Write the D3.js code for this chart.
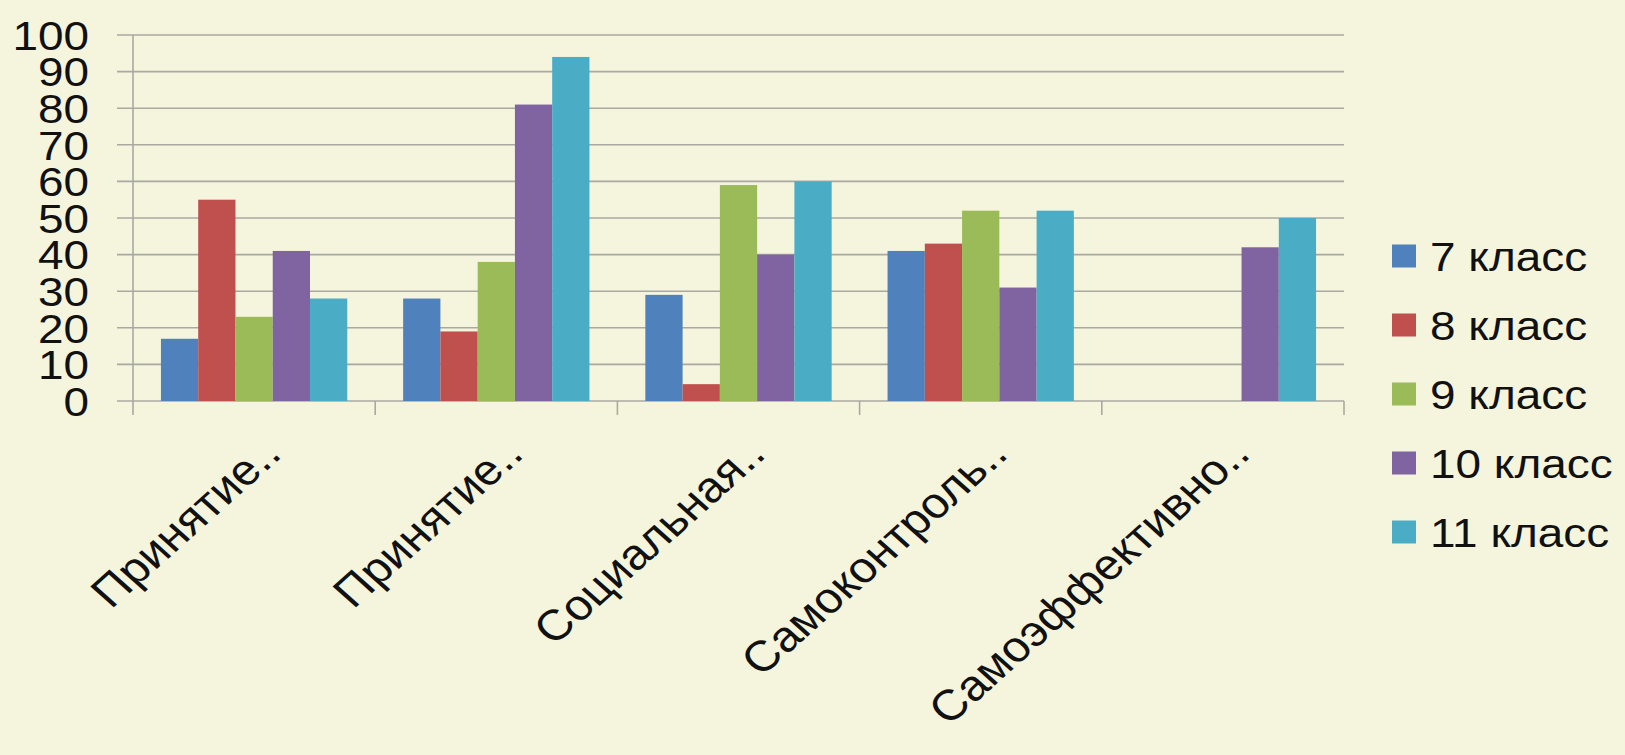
<!DOCTYPE html>
<html>
<head>
<meta charset="utf-8">
<script src="https://cdn.jsdelivr.net/npm/d3@7/dist/d3.min.js"></script>
<style>
  html, body { margin: 0; padding: 0; background: #F5F5DE; }
  svg { display: block; }
  text { font-family: "Liberation Sans", Arial, sans-serif; fill: #111; }
</style>
</head>
<body>
<svg id="chart" width="1625" height="755"></svg>
<script>
const categories = ["Принятие..", "Принятие..", "Социальная..", "Самоконтроль..", "Самоэффективно.."];
const seriesNames = ["7 класс", "8 класс", "9 класс", "10 класс", "11 класс"];
const seriesColors = ["#4F81BD", "#C0504D", "#9BBB59", "#8064A2", "#4BACC6"];
const s7  = [17, 28, 29, 41, null];
const s8  = [55, 19, 4.6, 43, null];
const s9  = [23, 38, 59, 52, null];
const s10 = [41, 81, 40, 31, 42];
const s11 = [28, 94, 60, 52, 50];
const yTicks = [0, 10, 20, 30, 40, 50, 60, 70, 80, 90, 100];

const seriesValues = [s7, s8, s9, s10, s11];
const SX = 1.12; // horizontal stretch of text seen in the reference

const svg = d3.select("#chart");
svg.append("rect").attr("width", 1625).attr("height", 755).attr("fill", "#F5F5DE");

const plotLeft = 133, plotRight = 1344, gridLeft = 117;
const y = d3.scaleLinear().domain([0, 100]).range([401, 35]);
const x0 = d3.scaleBand().domain(d3.range(categories.length)).range([plotLeft, plotRight]).paddingInner(0).paddingOuter(0);
const x1 = d3.scaleBand().domain(d3.range(seriesNames.length)).range([0, x0.bandwidth()]).paddingInner(0).paddingOuter(0.75);

// gridlines
svg.append("g").selectAll("line").data(yTicks).join("line")
  .attr("x1", gridLeft).attr("x2", plotRight)
  .attr("y1", d => y(d)).attr("y2", d => y(d))
  .attr("stroke", "#A9A9A2").attr("stroke-width", 1.6);

// vertical axis line
svg.append("line").attr("x1", plotLeft).attr("x2", plotLeft)
  .attr("y1", y(100)).attr("y2", y(0) + 14)
  .attr("stroke", "#A9A9A2").attr("stroke-width", 1.6);

// category ticks
const tickPos = d3.range(categories.length).map(i => x0(i)).concat([plotRight]);
svg.append("g").selectAll("line").data(tickPos.slice(1)).join("line")
  .attr("x1", d => d).attr("x2", d => d)
  .attr("y1", y(0)).attr("y2", y(0) + 14)
  .attr("stroke", "#A9A9A2").attr("stroke-width", 1.6);

// bars
const bars = [];
categories.forEach((c, ci) => {
  seriesValues.forEach((vals, si) => {
    if (vals[ci] !== null && vals[ci] !== undefined) bars.push({ ci, si, v: vals[ci] });
  });
});
svg.append("g").selectAll("rect").data(bars).join("rect")
  .attr("x", d => x0(d.ci) + x1(d.si))
  .attr("width", x1.bandwidth())
  .attr("y", d => y(d.v))
  .attr("height", d => y(0) - y(d.v))
  .attr("fill", d => seriesColors[d.si]);

// y tick labels
svg.append("g").selectAll("text").data(yTicks).join("text")
  .attr("transform", d => `translate(89,${y(d)}) scale(${SX},1)`)
  .attr("text-anchor", "end")
  .attr("dy", "0.36em")
  .attr("font-size", 41)
  .text(d => d);

// x labels (rotated)
svg.append("g").selectAll("text").data(categories).join("text")
  .attr("transform", (d, i) => `translate(${x0(i) + x0.bandwidth() / 2 + 29},456) scale(${SX},1) rotate(-45)`)
  .attr("text-anchor", "end")
  .attr("font-size", 43)
  .text(d => d);

// legend
const lg = svg.append("g").selectAll("g").data(seriesNames).join("g")
  .attr("transform", (d, i) => `translate(1392,${256 + i * 69})`);
lg.append("rect").attr("x", 0).attr("y", -11.5).attr("width", 24).attr("height", 23)
  .attr("fill", (d, i) => seriesColors[i]);
lg.append("text")
  .attr("transform", `translate(38,0) scale(${SX},1)`)
  .attr("dy", "0.36em")
  .attr("font-size", 41)
  .text(d => d);
</script>
</body>
</html>
